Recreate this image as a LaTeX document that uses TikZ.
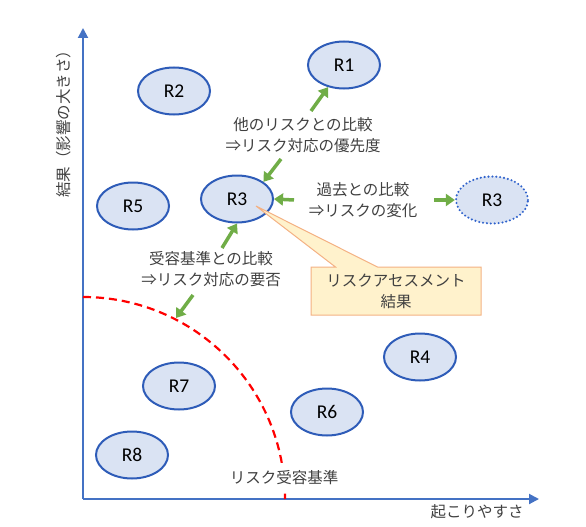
\documentclass[tikz,border=0pt]{standalone}
\usepackage{fontspec}
\newfontfamily\jpfont{Noto Sans CJK JP}
\newfontfamily\rfont{Carlito}
\usetikzlibrary{shapes.geometric,shapes.callouts,arrows.meta}
\definecolor{axisblue}{HTML}{4472C4}
\definecolor{riskline}{HTML}{2E5CB8}
\definecolor{riskdots}{HTML}{2F62CC}
\definecolor{riskfill}{HTML}{DAE3F3}
\definecolor{cmpgreen}{HTML}{70AD47}
\definecolor{noteline}{HTML}{F4B183}
\definecolor{notefill}{HTML}{FFF2CC}
\definecolor{txtgray}{HTML}{404040}
\begin{document}
\begin{tikzpicture}[
  x=1pt, y=-1pt,
  risk/.style={ellipse, draw=riskline, fill=riskfill, line width=2pt, minimum width=72pt, minimum height=47pt, inner sep=0pt, font=\rfont\fontsize{19.5}{19.5}\selectfont},
  pastrisk/.style={risk, draw=riskdots, line width=2.3pt, dash pattern=on 0pt off 3.9pt, line cap=round},
  jptext/.style={text=txtgray, align=center, inner sep=0pt, font=\jpfont\fontsize{15.5}{21}\selectfont},
  note/.style={rectangle callout, draw=noteline, fill=notefill, line width=1pt, minimum width=170pt, minimum height=48pt, callout pointer width=42pt, jptext},
  axisline/.style={draw=axisblue, line width=2pt, -{Triangle[length=10pt,width=10pt]}},
  cmp/.style={draw=cmpgreen, line width=3.5pt, -{Triangle[length=9pt,width=12pt]}},
  accline/.style={draw=red, line width=2.2pt, dash pattern=on 8pt off 5pt}
]
\useasboundingbox (0,0) rectangle (586,527);

\coordinate (o) at (83,499);
\coordinate (xend) at (539,499);
\coordinate (yend) at (83,28);
\draw[axisline] (o) -- (xend);
\draw[axisline] (o) -- (yend);
\node[jptext, rotate=90] (ylab) at (64,120) {結果（影響の大きさ）};
\node[jptext] (xlab) at (477,512) {起こりやすさ};

\draw[accline] (83,297) arc[start angle=-90, end angle=0, radius=202];
\node[jptext, fill=white, inner xsep=2pt, inner ysep=8pt] (acclab) at (284,478) {リスク受容基準};

\node[risk] (r1) at (344,65) {R1};
\node[risk] (r2) at (174,91) {R2};
\node[risk] (r3) at (237,199) {R3};
\node[risk] (r5) at (133,206) {R5};
\node[pastrisk] (r3old) at (492,200) {R3};
\node[risk] (r4) at (420,357) {R4};
\node[risk] (r7) at (179,386) {R7};
\node[risk] (r6) at (327,412) {R6};
\node[risk] (r8) at (132,455) {R8};

\node[jptext] (others) at (303,135) {他のリスクとの比較\\⇒リスク対応の優先度};
\node[jptext] (past) at (363,200) {過去との比較\\⇒リスクの変化};
\node[jptext] (accept) at (211,269) {受容基準との比較\\⇒リスク対応の要否};

\coordinate (t1) at (311,111);
\coordinate (t2) at (281,159);
\coordinate (t3) at (294,200);
\coordinate (t4) at (434,200);
\coordinate (t5) at (222,248);
\coordinate (t6) at (193,295);
\coordinate (acc) at (176,318);
\draw[cmp] (t1) -- (r1);
\draw[cmp] (t2) -- (r3.33);
\draw[cmp] (t3) -- (r3.east);
\draw[cmp] (t4) -- (r3old.west);
\draw[cmp] (t5) -- (r3.south);
\draw[cmp] (t6) -- (acc);

\coordinate (tip) at (256,206);
\node[note, callout absolute pointer={(tip)}] (result) at (396,291) {リスクアセスメント\\結果};
\end{tikzpicture}
\end{document}
